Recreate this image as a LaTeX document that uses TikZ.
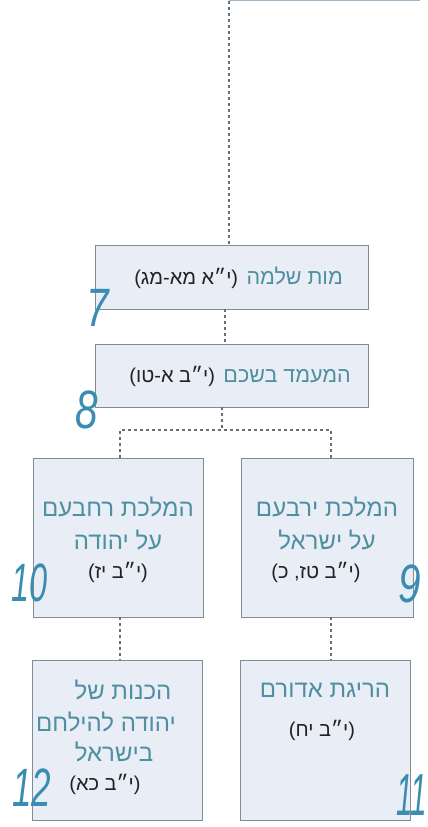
\documentclass[tikz,border=0pt]{standalone}
\usepackage{fontspec}
\usepackage{graphicx}
\setmainfont{Liberation Sans}
\newfontfamily\heb[Script=Hebrew]{Liberation Sans}
\TeXXeTstate=1
\definecolor{boxfill}{HTML}{E9EDF5}
\definecolor{boxline}{HTML}{7E8C96}
\definecolor{titlec}{HTML}{4E8FA0}
\definecolor{refc}{HTML}{222222}
\definecolor{hand}{HTML}{3A8DB0}
\definecolor{topline}{HTML}{9FB6C4}
\begin{document}
\begin{tikzpicture}[x=1pt,y=-1pt,
  box/.style={draw=boxline, line width=0.9pt, fill=boxfill, inner sep=0pt},
  ttl/.style={text=titlec, font=\heb\fontsize{24}{24}\selectfont, inner sep=0pt},
  ttlb/.style={text=titlec, font=\heb\fontsize{21.5}{21.5}\selectfont, inner sep=0pt},
  refl/.style={text=refc, font=\heb\fontsize{20}{20}\selectfont, inner sep=0pt},
  conn/.style={draw=boxline!80!black, line width=1.3pt, dash pattern=on 3pt off 3pt},
  handnum/.style={text=hand, font=\itshape\fontsize{54}{54}\selectfont, inner sep=0pt}
]
\useasboundingbox (0,0) rectangle (428,827);

% top cut-off box edge
\coordinate (topstart) at (229,0.6);
\coordinate (topend) at (420,0.6);
\draw[topline, line width=1.2pt] (topstart) -- (topend);

% boxes
\node[box, minimum width=273pt, minimum height=64pt] (b1) at (231.5,277) {};
\node[box, minimum width=273pt, minimum height=63pt] (b2) at (231.5,375.5) {};
\node[box, minimum width=170pt, minimum height=159pt] (bl) at (118,537.5) {};
\node[box, minimum width=172pt, minimum height=159pt] (br) at (327,537.5) {};
\node[box, minimum width=170pt, minimum height=160pt] (bbl) at (117,740) {};
\node[box, minimum width=170pt, minimum height=160pt] (bbr) at (325,740) {};

% texts of the two wide boxes
\node[ttlb, anchor=base east] (t1a) at (343,284) {\beginR מות שלמה\endR};
\node[refl, anchor=base east] (t1b) at ([xshift=-8pt]t1a.base west) {\beginR (י״א מא-מג)\endR};
\node[ttlb, anchor=base east] (t2a) at (351,382) {\beginR המעמד בשכם\endR};
\node[refl, anchor=base east] (t2b) at ([xshift=-8pt]t2a.base west) {\beginR (י״ב א-טו)\endR};

% texts of the lower boxes
\node[ttl] (l1) at (118,507) {\beginR המלכת רחבעם\endR};
\node[ttl] (l2) at (118,540) {\beginR על יהודה\endR};
\node[refl] (l3) at (118,572) {\beginR (י״ב יז)\endR};

\node[ttl] (r1) at (327,507) {\beginR המלכת ירבעם\endR};
\node[ttl] (r2) at (327,540) {\beginR על ישראל\endR};
\node[refl] (r3) at (316,572) {\beginR (י״ב טז, כ)\endR};

\node[ttl] (bl1) at (123,690) {\beginR הכנות של\endR};
\node[ttl] (bl2) at (106,722) {\beginR יהודה להילחם\endR};
\node[ttl] (bl3) at (114,752) {\beginR בישראל\endR};
\node[refl] (bl4) at (105,784) {\beginR (י״ב כא)\endR};

\node[ttl] (br1) at (325,690) {\beginR הריגת אדורם\endR};
\node[refl] (br2) at (322,730) {\beginR (י״ב יח)\endR};

% connectors
\draw[conn] (topstart) -- (b1.north -| topstart);
\coordinate (c12) at (225,0);
\draw[conn] (b1.south -| c12) -- (b2.north -| c12);
\coordinate (split) at (222,430);
\coordinate (lsplit) at (120,430);
\coordinate (rsplit) at (331,430);
\draw[conn] (b2.south -| split) -- (split);
\draw[conn] (bl.north -| lsplit) -- (lsplit) -- (rsplit) -- (br.north -| rsplit);
\draw[conn] (bl.south -| lsplit) -- (bbl.north -| lsplit);
\draw[conn] (br.south -| rsplit) -- (bbr.north -| rsplit);

% handwritten numbers
\node[handnum] (n7) at (98,308) {\scalebox{0.75}[1]{7}};
\node[handnum] (n8) at (87,410) {\scalebox{0.75}[1]{8}};
\node[handnum] (n10) at (30,583) {\scalebox{0.6}[1]{10}};
\node[handnum] (n9) at (410,584) {\scalebox{0.75}[1]{9}};
\node[handnum] (n12) at (32,788) {\scalebox{0.65}[1]{12}};
\node[handnum] (n11) at (412,795) {\scalebox{0.55}[1.1]{11}};
\end{tikzpicture}
\end{document}
